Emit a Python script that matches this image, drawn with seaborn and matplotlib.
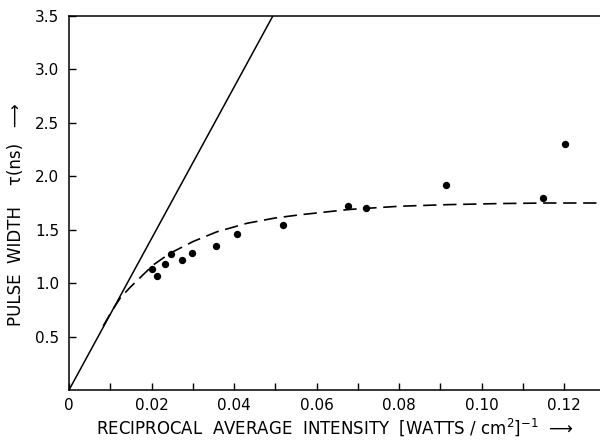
import numpy as np
import pandas as pd
import matplotlib
matplotlib.use("Agg")
import matplotlib.pyplot as plt
import seaborn as sns

# measured pulse widths
recip_intensity = [0.0200, 0.0214, 0.0233, 0.0247, 0.0275, 0.0297, 0.0356, 0.0407,
                   0.0518, 0.0677, 0.0720, 0.0914, 0.1150, 0.1201]
pulse_width = [1.13, 1.07, 1.18, 1.27, 1.22, 1.28, 1.35, 1.46,
               1.54, 1.72, 1.70, 1.92, 1.80, 2.30]

# straight line through origin
line_x = [0.0, 0.0494]
line_y = [0.0, 3.5]

# dashed theory curve
curve_x = [0.0083, 0.0104, 0.0124, 0.0148, 0.0172, 0.0204, 0.0245, 0.0301, 0.0358,
           0.0431, 0.0500, 0.0560, 0.0680, 0.0802, 0.0920, 0.1045, 0.1160, 0.1290]
curve_y = [0.60, 0.74, 0.86, 0.96, 1.05, 1.17, 1.28, 1.39, 1.48,
           1.56, 1.61, 1.64, 1.69, 1.72, 1.735, 1.745, 1.75, 1.75]

sns.set_style("ticks")
plt.rcParams['font.family'] = ['DejaVu Sans']
plt.rcParams['text.color'] = 'black'
plt.rcParams['axes.labelcolor'] = 'black'

fig = plt.figure(figsize=(6, 4.4), dpi=100)
ax = fig.add_axes([0.115, 0.1136, 0.885, 0.85])

df_pts = pd.DataFrame({'x': recip_intensity, 'y': pulse_width})
df_line = pd.DataFrame({'x': line_x, 'y': line_y})
df_curve = pd.DataFrame({'x': curve_x, 'y': curve_y})

sns.lineplot(data=df_line, x='x', y='y', ax=ax, color='black', linewidth=1.1, sort=False)
sns.lineplot(data=df_curve, x='x', y='y', ax=ax, color='black', linewidth=1.2,
             linestyle=(0, (8, 4)), sort=False)
sns.scatterplot(data=df_pts, x='x', y='y', ax=ax, color='black', s=28,
                edgecolor='black', linewidth=0, zorder=5)

ax.set_xlim(0, 0.1287)
ax.set_ylim(0, 3.5)
ax.set_xticks([0, 0.02, 0.04, 0.06, 0.08, 0.10, 0.12])
ax.set_xticklabels(['0', '0.02', '0.04', '0.06', '0.08', '0.10', '0.12'])
ax.set_xticks(np.arange(0.01, 0.13, 0.02), minor=True)
ax.set_yticks([0.5, 1.0, 1.5, 2.0, 2.5, 3.0, 3.5])
ax.set_yticklabels(['0.5', '1.0', '1.5', '2.0', '2.5', '3.0', '3.5'])
ax.tick_params(axis='both', which='both', direction='in', length=5, width=1,
               labelsize=11, colors='black', labelcolor='black')
ax.tick_params(axis='x', pad=6)
ax.tick_params(axis='y', pad=7)

for s in ['left', 'bottom', 'top']:
    ax.spines[s].set_visible(True)
    ax.spines[s].set_linewidth(1.1)
    ax.spines[s].set_color('black')
ax.spines['right'].set_visible(False)

ax.set_xlabel(r"RECIPROCAL  AVERAGE  INTENSITY  $\left[\mathrm{WATTS\ /\ cm^{2}}\right]^{-1}$  ⟶",
              fontsize=12, labelpad=2, color='black')
ax.set_ylabel("PULSE  WIDTH    τ(ns)   ⟶", fontsize=12, color='black')
ax.yaxis.set_label_coords(-0.082, 0.47)

fig.savefig("out.png", dpi=100)
